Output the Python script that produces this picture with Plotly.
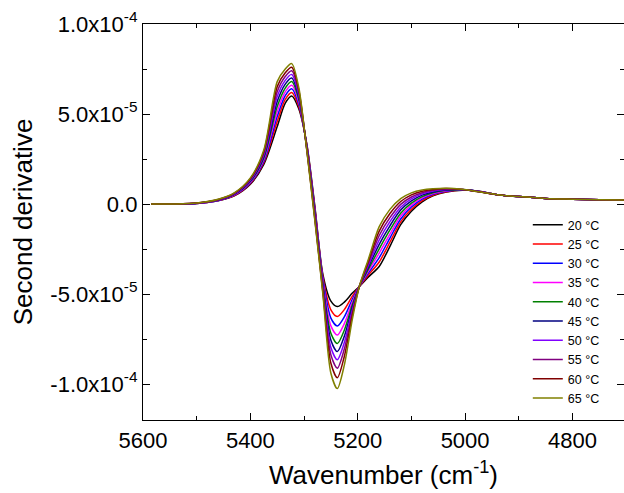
import plotly.graph_objects as go

# Wavenumber grid (cm^-1) of the second-derivative spectra
wavenumber = [5585, 5540, 5500, 5460, 5430, 5400, 5375, 5350, 5335, 5323,
              5310, 5295, 5280, 5265, 5250, 5238, 5225, 5210, 5197, 5180,
              5160, 5140, 5120, 5100, 5080, 5060, 5035, 5005, 4975, 4940,
              4900, 4850, 4800, 4750, 4700]

# Second derivative values, in units of 1e-5
d20 = [0, 0, 0.03, 0.18, 0.45, 1.10, 2.20, 4.30, 5.60, 6.00, 5.30, 3.35, -0.10, -3.90, -5.40,
       -5.70, -5.45, -4.95, -4.58, -4.05, -3.47, -2.35, -1.15, -0.40, 0.12, 0.45, 0.66, 0.77,
       0.71, 0.52, 0.41, 0.31, 0.27, 0.24, 0.22]
d25 = [0, 0, 0.03, 0.19, 0.47, 1.14, 2.29, 4.58, 5.81, 6.20, 5.43, 3.31, -0.19, -4.02, -5.88,
       -6.25, -5.87, -5.12, -4.58, -3.94, -3.22, -2.12, -0.99, -0.29, 0.19, 0.49, 0.68, 0.78,
       0.71, 0.52, 0.41, 0.31, 0.27, 0.24, 0.22]
d30 = [0, 0, 0.03, 0.20, 0.49, 1.18, 2.38, 4.86, 6.02, 6.40, 5.57, 3.27, -0.28, -4.14, -6.34,
       -6.78, -6.27, -5.29, -4.58, -3.83, -2.98, -1.89, -0.83, -0.17, 0.27, 0.54, 0.71, 0.78,
       0.71, 0.52, 0.41, 0.31, 0.27, 0.24, 0.22]
d35 = [0, 0, 0.04, 0.21, 0.51, 1.22, 2.47, 5.13, 6.23, 6.60, 5.70, 3.23, -0.37, -4.27, -6.77,
       -7.28, -6.65, -5.45, -4.58, -3.72, -2.73, -1.67, -0.67, -0.06, 0.34, 0.58, 0.73, 0.79,
       0.70, 0.52, 0.41, 0.31, 0.27, 0.24, 0.22]
d40 = [0, 0, 0.04, 0.22, 0.53, 1.26, 2.56, 5.41, 6.44, 6.80, 5.83, 3.19, -0.46, -4.39, -7.18,
       -7.75, -7.01, -5.60, -4.58, -3.61, -2.49, -1.44, -0.51, 0.05, 0.41, 0.63, 0.76, 0.79,
       0.70, 0.52, 0.41, 0.31, 0.27, 0.24, 0.22]
d45 = [0, 0, 0.04, 0.22, 0.54, 1.29, 2.64, 5.69, 6.66, 7.00, 5.97, 3.16, -0.54, -4.51, -7.57,
       -8.20, -7.35, -5.74, -4.58, -3.49, -2.24, -1.21, -0.34, 0.17, 0.49, 0.67, 0.78, 0.80,
       0.70, 0.52, 0.41, 0.31, 0.27, 0.24, 0.22]
d50 = [0, 0, 0.04, 0.23, 0.56, 1.33, 2.73, 5.97, 6.87, 7.20, 6.10, 3.12, -0.63, -4.63, -7.97,
       -8.65, -7.70, -5.88, -4.58, -3.38, -2.00, -0.98, -0.18, 0.28, 0.56, 0.72, 0.81, 0.80,
       0.69, 0.52, 0.41, 0.31, 0.27, 0.24, 0.22]
d55 = [0, 0, 0.05, 0.24, 0.58, 1.37, 2.82, 6.24, 7.08, 7.40, 6.23, 3.08, -0.72, -4.76, -8.38,
       -9.12, -8.06, -6.03, -4.58, -3.27, -1.75, -0.76, -0.02, 0.39, 0.63, 0.76, 0.83, 0.81,
       0.69, 0.52, 0.41, 0.31, 0.27, 0.24, 0.22]
d60 = [0, 0, 0.05, 0.25, 0.60, 1.41, 2.91, 6.52, 7.29, 7.60, 6.37, 3.04, -0.81, -4.88, -8.85,
       -9.65, -8.47, -6.20, -4.58, -3.16, -1.51, -0.53, 0.14, 0.51, 0.71, 0.81, 0.86, 0.81,
       0.68, 0.52, 0.41, 0.31, 0.27, 0.24, 0.22]
d65 = [0, 0, 0.05, 0.26, 0.62, 1.45, 3.00, 6.80, 7.50, 7.80, 6.50, 3.00, -0.90, -5.00, -9.40,
       -10.25, -8.95, -6.40, -4.58, -3.05, -1.26, -0.30, 0.30, 0.62, 0.78, 0.85, 0.88, 0.82,
       0.68, 0.52, 0.41, 0.31, 0.27, 0.24, 0.22]

temperatures = [20, 25, 30, 35, 40, 45, 50, 55, 60, 65]
series = [d20, d25, d30, d35, d40, d45, d50, d55, d60, d65]
colors = ["#000000", "#FF0000", "#0000FF", "#FF00FF", "#008000",
          "#000080", "#8000FF", "#800080", "#800000", "#808000"]
unit = 1e-5

y_tickvals = [1.0e-4, 5.0e-5, 0.0, -5.0e-5, -1.0e-4]
y_ticktext = ["1.0x10<sup>-4</sup>", "5.0x10<sup>-5</sup>", "0.0",
              "-5.0x10<sup>-5</sup>", "-1.0x10<sup>-4</sup>"]
y_minor = [7.5e-5, 2.5e-5, -2.5e-5, -7.5e-5]
x_tickvals = [5600, 5400, 5200, 5000, 4800]
x_minor = [5500, 5300, 5100, 4900]

fig = go.Figure()
for t, vals, c in zip(temperatures, series, colors):
    fig.add_trace(go.Scatter(
        x=wavenumber, y=[v * unit for v in vals], mode="lines",
        line=dict(color=c, width=1.5, shape="spline", smoothing=0.8),
        name=f"{t} \u00b0C"))

# right-hand axis carrying only inward ticks
fig.add_trace(go.Scatter(x=[None], y=[None], yaxis="y2", showlegend=False,
                         hoverinfo="skip"))

tick_font = dict(family="Liberation Sans, Arial", size=22, color="black")
fig.update_layout(
    width=624, height=493,
    margin=dict(l=143, r=0, t=24, b=73),
    plot_bgcolor="white", paper_bgcolor="white",
    font=dict(family="Liberation Sans, Arial", color="black"),
    showlegend=True,
    legend=dict(x=0.8, y=0.53, xanchor="left", yanchor="top",
                bgcolor="rgba(0,0,0,0)", font=dict(size=12.5),
                itemwidth=30, tracegroupgap=0),
    xaxis=dict(
        range=[5600, 4704], tickvals=x_tickvals, ticks="inside", ticklen=7,
        tickwidth=1.3, tickcolor="black", showline=True, linecolor="black",
        linewidth=1.3, mirror="ticks", showgrid=False, zeroline=False,
        tickfont=tick_font,
        minor=dict(tickvals=x_minor, ticks="inside", ticklen=4, tickwidth=1.3,
                   tickcolor="black", showgrid=False),
        title=dict(text="Wavenumber (cm<sup>-1</sup>)", font=dict(size=26), standoff=14),
    ),
    yaxis=dict(
        range=[-1.2e-4, 1.0e-4], tickvals=y_tickvals, ticktext=y_ticktext,
        ticks="inside", ticklen=7, tickwidth=1.3, tickcolor="black",
        showline=True, linecolor="black", linewidth=1.3, showgrid=False,
        zeroline=False, tickfont=tick_font,
        minor=dict(tickvals=y_minor, ticks="inside", ticklen=4, tickwidth=1.3,
                   tickcolor="black", showgrid=False),
        title=dict(text="Second derivative", font=dict(size=26), standoff=10),
    ),
    yaxis2=dict(
        overlaying="y", side="right", anchor="x",
        range=[-1.2e-4, 1.0e-4], tickvals=y_tickvals, showticklabels=False,
        ticks="inside", ticklen=7, tickwidth=1.3, tickcolor="black",
        showline=False, showgrid=False, zeroline=False,
        minor=dict(tickvals=y_minor, ticks="inside", ticklen=4, tickwidth=1.3,
                   tickcolor="black", showgrid=False),
    ),
)

fig.write_html("out.html")
